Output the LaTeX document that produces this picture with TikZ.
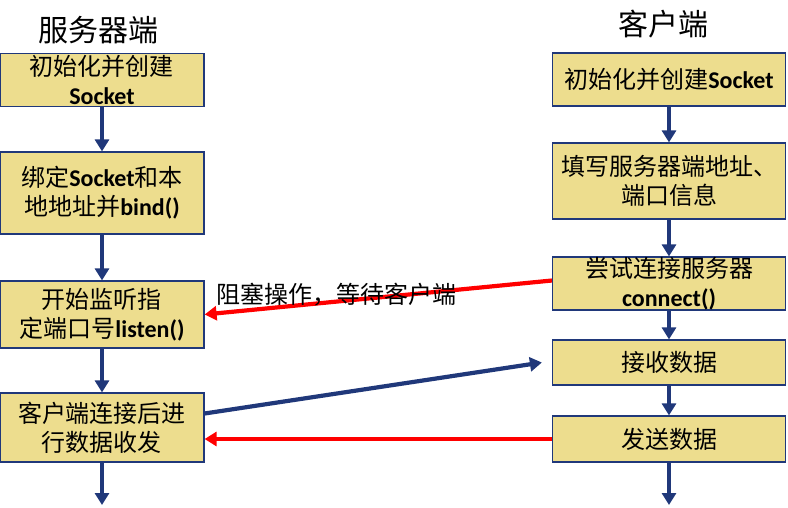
\documentclass[tikz,border=0pt]{standalone}
\usepackage{fontspec}
\setmainfont{Noto Sans CJK SC}
\newfontfamily\latinfont{Carlito}
\newcommand{\eng}[1]{{\latinfont\bfseries #1}}
\usepackage{tikz}
\usetikzlibrary{arrows.meta}

\definecolor{boxfill}{RGB}{237,221,142}
\definecolor{navy}{RGB}{32,56,122}

\begin{document}
\begin{tikzpicture}[x=1pt,y=-1pt,
  stepbox/.style={draw=navy,line width=1.2pt,fill=boxfill,inner sep=0pt,align=center,
    font=\fontsize{24pt}{29pt}\selectfont},
  flow/.style={navy,line width=4.2pt,-{Triangle[length=12pt,width=14pt]}},
  block/.style={red,line width=4.2pt,-{Triangle[length=12pt,width=14pt]}},
  title/.style={font=\fontsize{30pt}{36pt}\selectfont}]

\useasboundingbox (0,0) rectangle (788,507);

% column titles
\node[title] (tserver) at (98,30) {服务器端};
\node[title] (tclient) at (663,24) {客户端};

% server side
\node[stepbox,minimum width=204pt,minimum height=53pt] (s1) at (102,80) {初始化并创建\\\eng{Socket}};
\node[stepbox,minimum width=204pt,minimum height=82pt] (s2) at (102,193) {绑定\eng{Socket}和本\\地地址并\eng{bind()}};
\node[stepbox,minimum width=204pt,minimum height=67pt] (s3) at (102,314.5) {开始监听指\\定端口号\eng{listen()}};
\node[stepbox,minimum width=204pt,minimum height=69pt] (s4) at (102,427.5) {客户端连接后进\\行数据收发};
\coordinate (send) at (102,505);

% client side
\node[stepbox,minimum width=233pt,minimum height=53pt] (r1) at (669,79.5) {初始化并创建\eng{Socket}};
\node[stepbox,minimum width=233pt,minimum height=76pt] (r2) at (669,181) {填写服务器端地址、\\端口信息};
\node[stepbox,minimum width=233pt,minimum height=53pt] (r3) at (669,283.5) {尝试连接服务器\\\eng{connect()}};
\node[stepbox,minimum width=233pt,minimum height=45pt] (r4) at (669,362.5) {接收数据};
\node[stepbox,minimum width=233pt,minimum height=46pt] (r5) at (669,439) {发送数据};
\coordinate (rend) at (669,505);

% flow down each side
\draw[flow] (s1) -- (s2);
\draw[flow] (s2) -- (s3);
\draw[flow] (s3) -- (s4);
\draw[flow] (s4) -- (send);
\draw[flow] (r1) -- (r2);
\draw[flow] (r2) -- (r3);
\draw[flow] (r3) -- (r4);
\draw[flow] (r4) -- (r5);
\draw[flow] (r5) -- (rend);

% messages between the two sides
\draw[block] ([yshift=3pt]r3.west) -- (s3.east);
\node[font=\fontsize{24pt}{29pt}\selectfont] (wait) at (336,295) {阻塞操作，等待客户端};
\draw[flow] ([yshift=14pt]s4.east) -- ([xshift=-10pt]r4.west);
\draw[block] (r5.west) -- (r5.west -| s4.east);

\end{tikzpicture}
\end{document}
